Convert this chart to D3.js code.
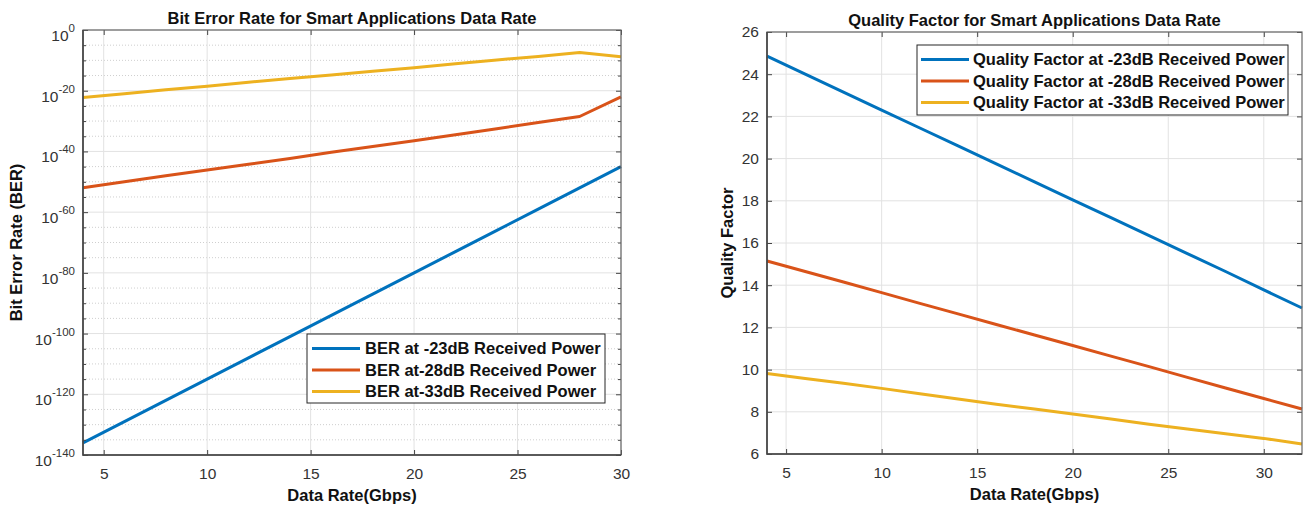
<!DOCTYPE html>
<html>
<head>
<meta charset="utf-8">
<script src="https://cdn.jsdelivr.net/npm/d3@7/dist/d3.min.js"></script>
<style>
    body{margin:0;background:#fff;}
    text{font-family:"Liberation Sans",Arial,Helvetica,sans-serif;}
</style>
</head>
<body>
<svg id="chart" width="1306" height="509"></svg>
<script>
"use strict";

// 左图：误码率 (BER) 与数据速率
var berRate = [4, 6, 8, 10, 12, 14, 16, 18, 20, 22, 24, 26, 28, 30];
var berMinus23 = [1e-136, 1e-129, 1e-122, 1e-115, 1e-108, 1e-101, 1e-94, 1e-87, 1e-80, 1e-73, 1e-66, 1e-59, 1e-52, 1e-45];
var berMinus28 = [1e-52, 1e-50, 1e-48, 7.9e-47, 6.3e-45, 5.0e-43, 5.0e-41, 4.0e-39, 3.2e-37, 3.2e-35, 3.2e-33, 3.2e-31, 3.2e-29, 1e-22];
var berMinus33 = [6.3e-23, 1e-21, 2.0e-20, 3.2e-19, 6.3e-18, 1e-16, 1.6e-15, 2.5e-14, 4.0e-13, 7.9e-12, 1.3e-10, 2.0e-9, 4.0e-8, 1.6e-9];
var berTicks = [1e-140, 1e-120, 1e-100, 1e-80, 1e-60, 1e-40, 1e-20, 1e0];
var berRateTicks = [5, 10, 15, 20, 25, 30];
var berNames = ["BER at -23dB Received Power", "BER at-28dB Received Power", "BER at-33dB Received Power"];

// 右图：品质因子 (Q) 与数据速率
var qRate = [4, 6, 8, 10, 12, 14, 16, 18, 20, 22, 24, 26, 28, 30, 32];
var qMinus23 = [24.86, 24.0, 23.15, 22.3, 21.45, 20.6, 19.75, 18.9, 18.04, 17.2, 16.35, 15.5, 14.65, 13.78, 12.92];
var qMinus28 = [15.15, 14.65, 14.15, 13.65, 13.14, 12.64, 12.14, 11.64, 11.14, 10.64, 10.14, 9.63, 9.13, 8.63, 8.13];
var qMinus33 = [9.82, 9.58, 9.35, 9.11, 8.86, 8.61, 8.36, 8.13, 7.9, 7.66, 7.41, 7.18, 6.96, 6.74, 6.47];
var qTicks = [6, 8, 10, 12, 14, 16, 18, 20, 22, 24, 26];
var qRateTicks = [5, 10, 15, 20, 25, 30];
var qNames = ["Quality Factor at -23dB Received Power", "Quality Factor at -28dB Received Power", "Quality Factor at -33dB Received Power"];

var lineColors = ["#0072BD", "#D95319", "#EDB120"];

var svg = d3.select("#chart");
svg.append("rect").attr("width", 1306).attr("height", 509).attr("fill", "#fff");

/**
 * 绘制一个面板
 * @param svg  svg对象
 * @param config  面板配置
 */
function drawPanel(svg, config) {
    var w = config.width, h = config.height;
    var g = svg.append("g")
        .attr("transform", "translate(" + config.left + "," + config.top + ")");

    var x = d3.scaleLinear().domain(config.xDomain).range([0, w]);
    var y = (config.log ? d3.scaleLog() : d3.scaleLinear())
        .domain(config.yDomain).range([h, 0]);

    //次网格线 (只在对数轴)
    if (config.minorTicks) {
        g.append("g").selectAll("line")
            .data(config.minorTicks)
            .enter().append("line")
            .attr("x1", 0).attr("x2", w)
            .attr("y1", function(d){ return y(d); })
            .attr("y2", function(d){ return y(d); })
            .attr("stroke", "#cfcfcf")
            .attr("stroke-width", 1)
            .attr("stroke-dasharray", "1,2");
    }

    //主网格线
    g.append("g").selectAll("line")
        .data(config.xTicks)
        .enter().append("line")
        .attr("x1", function(d){ return x(d); })
        .attr("x2", function(d){ return x(d); })
        .attr("y1", 0).attr("y2", h)
        .attr("stroke", "#e2e2e2");
    g.append("g").selectAll("line")
        .data(config.yTicks)
        .enter().append("line")
        .attr("x1", 0).attr("x2", w)
        .attr("y1", function(d){ return y(d); })
        .attr("y2", function(d){ return y(d); })
        .attr("stroke", "#e2e2e2");

    //曲线
    var line = d3.line()
        .x(function(d){ return x(d[0]); })
        .y(function(d){ return y(d[1]); });
    config.series.forEach(function(s, i){
        g.append("path")
            .datum(config.xData.map(function(v, j){ return [v, s[j]]; }))
            .attr("fill", "none")
            .attr("stroke", lineColors[i])
            .attr("stroke-width", 3)
            .attr("stroke-linejoin", "round")
            .attr("d", line);
    });

    //坐标轴
    g.append("g")
        .attr("transform", "translate(0," + h + ")")
        .call(d3.axisBottom(x).tickValues(config.xTicks).tickSizeInner(-5).tickSizeOuter(0).tickPadding(13));
    g.append("g")
        .call(d3.axisTop(x).tickValues(config.xTicks).tickSizeInner(-5).tickSizeOuter(0).tickFormat(""));
    var yAxis = g.append("g")
        .call(d3.axisLeft(y).tickValues(config.yTicks).tickSizeInner(-5).tickSizeOuter(0).tickPadding(8));
    g.append("g")
        .attr("transform", "translate(" + w + ",0)")
        .call(d3.axisRight(y).tickValues(config.yTicks).tickSizeInner(-5).tickSizeOuter(0).tickFormat(""));

    if (config.minorTicks) {
        g.append("g")
            .call(d3.axisLeft(y).tickValues(config.minorTicks).tickSizeInner(-3).tickSizeOuter(0).tickFormat(""));
        g.append("g")
            .attr("transform", "translate(" + w + ",0)")
            .call(d3.axisRight(y).tickValues(config.minorTicks).tickSizeInner(-3).tickSizeOuter(0).tickFormat(""));
    }

    g.selectAll(".domain").remove();
    g.selectAll(".tick line").attr("stroke", "#444");
    g.selectAll(".tick text")
        .attr("font-size", 15.5)
        .attr("fill", "#333")
        .style("font-family", "'Liberation Sans',Arial,sans-serif");

    //对数轴标签 10^n
    if (config.log) {
        yAxis.selectAll(".tick text").each(function(d){
            var exp = Math.round(Math.log10(d));
            var t = d3.select(this).text("").attr("dy", null).attr("y", 10.5);
            t.append("tspan").text("10");
            t.append("tspan").attr("dy", -9).attr("font-size", 11.5).text(exp);
        });
    }

    //边框
    g.append("rect")
        .attr("x", 0).attr("y", 0)
        .attr("width", w).attr("height", h)
        .attr("fill", "none")
        .attr("stroke", "#666")
        .attr("stroke-width", 1.2);
    g.append("path")
        .attr("d", "M0,0V" + h + "H" + w)
        .attr("fill", "none")
        .attr("stroke", "#444")
        .attr("stroke-width", 1.6);

    //标题
    g.append("text")
        .attr("x", w / 2).attr("y", -6.5)
        .attr("text-anchor", "middle")
        .attr("font-size", 16.5).attr("font-weight", "bold")
        .attr("fill", "#111")
        .text(config.title);

    //x轴标题
    g.append("text")
        .attr("x", w / 2).attr("y", h + 46)
        .attr("text-anchor", "middle")
        .attr("font-size", 16.5).attr("font-weight", "bold")
        .attr("fill", "#111")
        .text("Data Rate(Gbps)");

    //y轴标题
    g.append("text")
        .attr("transform", "translate(" + config.yLabelX + "," + (h / 2) + ") rotate(-90)")
        .attr("text-anchor", "middle")
        .attr("font-size", 16.5).attr("font-weight", "bold")
        .attr("fill", "#111")
        .text(config.yLabel);

    //图例
    var lg = config.legend;
    var gLegend = g.append("g")
        .attr("transform", "translate(" + lg.x + "," + lg.y + ")");
    gLegend.append("rect")
        .attr("width", lg.width).attr("height", lg.height)
        .attr("fill", "#fff")
        .attr("stroke", "#262626")
        .attr("stroke-width", 1);
    config.names.forEach(function(name, i){
        var cy = 14.5 + i * 21.5;
        gLegend.append("line")
            .attr("x1", lg.lineX1).attr("x2", lg.lineX2)
            .attr("y1", cy).attr("y2", cy)
            .attr("stroke", lineColors[i])
            .attr("stroke-width", 3);
        gLegend.append("text")
            .attr("x", lg.textX).attr("y", cy)
            .attr("dy", "0.36em")
            .attr("font-size", 16.5).attr("font-weight", "bold")
            .attr("fill", "#111")
            .text(name);
    });
}

//对数次网格：每5个数量级
var berMinor = d3.range(-135, 0, 5)
    .filter(function(e){ return e % 20 !== 0; })
    .map(function(e){ return Math.pow(10, e); });

drawPanel(svg, {
    left: 83, top: 30, width: 538, height: 425,
    xDomain: [4, 30], yDomain: [1e-140, 1e0], log: true,
    xData: berRate,
    series: [berMinus23, berMinus28, berMinus33],
    xTicks: berRateTicks, yTicks: berTicks, minorTicks: berMinor,
    title: "Bit Error Rate for Smart Applications Data Rate",
    yLabel: "Bit Error Rate (BER)", yLabelX: -61,
    names: berNames,
    legend: {x: 224, y: 304, width: 298, height: 69, lineX1: 5, lineX2: 53, textX: 58}
});

drawPanel(svg, {
    left: 767, top: 32, width: 535, height: 422,
    xDomain: [4, 32], yDomain: [6, 26], log: false,
    xData: qRate,
    series: [qMinus23, qMinus28, qMinus33],
    xTicks: qRateTicks, yTicks: qTicks, minorTicks: null,
    title: "Quality Factor for Smart Applications Data Rate",
    yLabel: "Quality Factor", yLabelX: -34,
    names: qNames,
    legend: {x: 150, y: 13, width: 371, height: 70, lineX1: 4, lineX2: 52, textX: 56}
});
</script>
</body>
</html>
